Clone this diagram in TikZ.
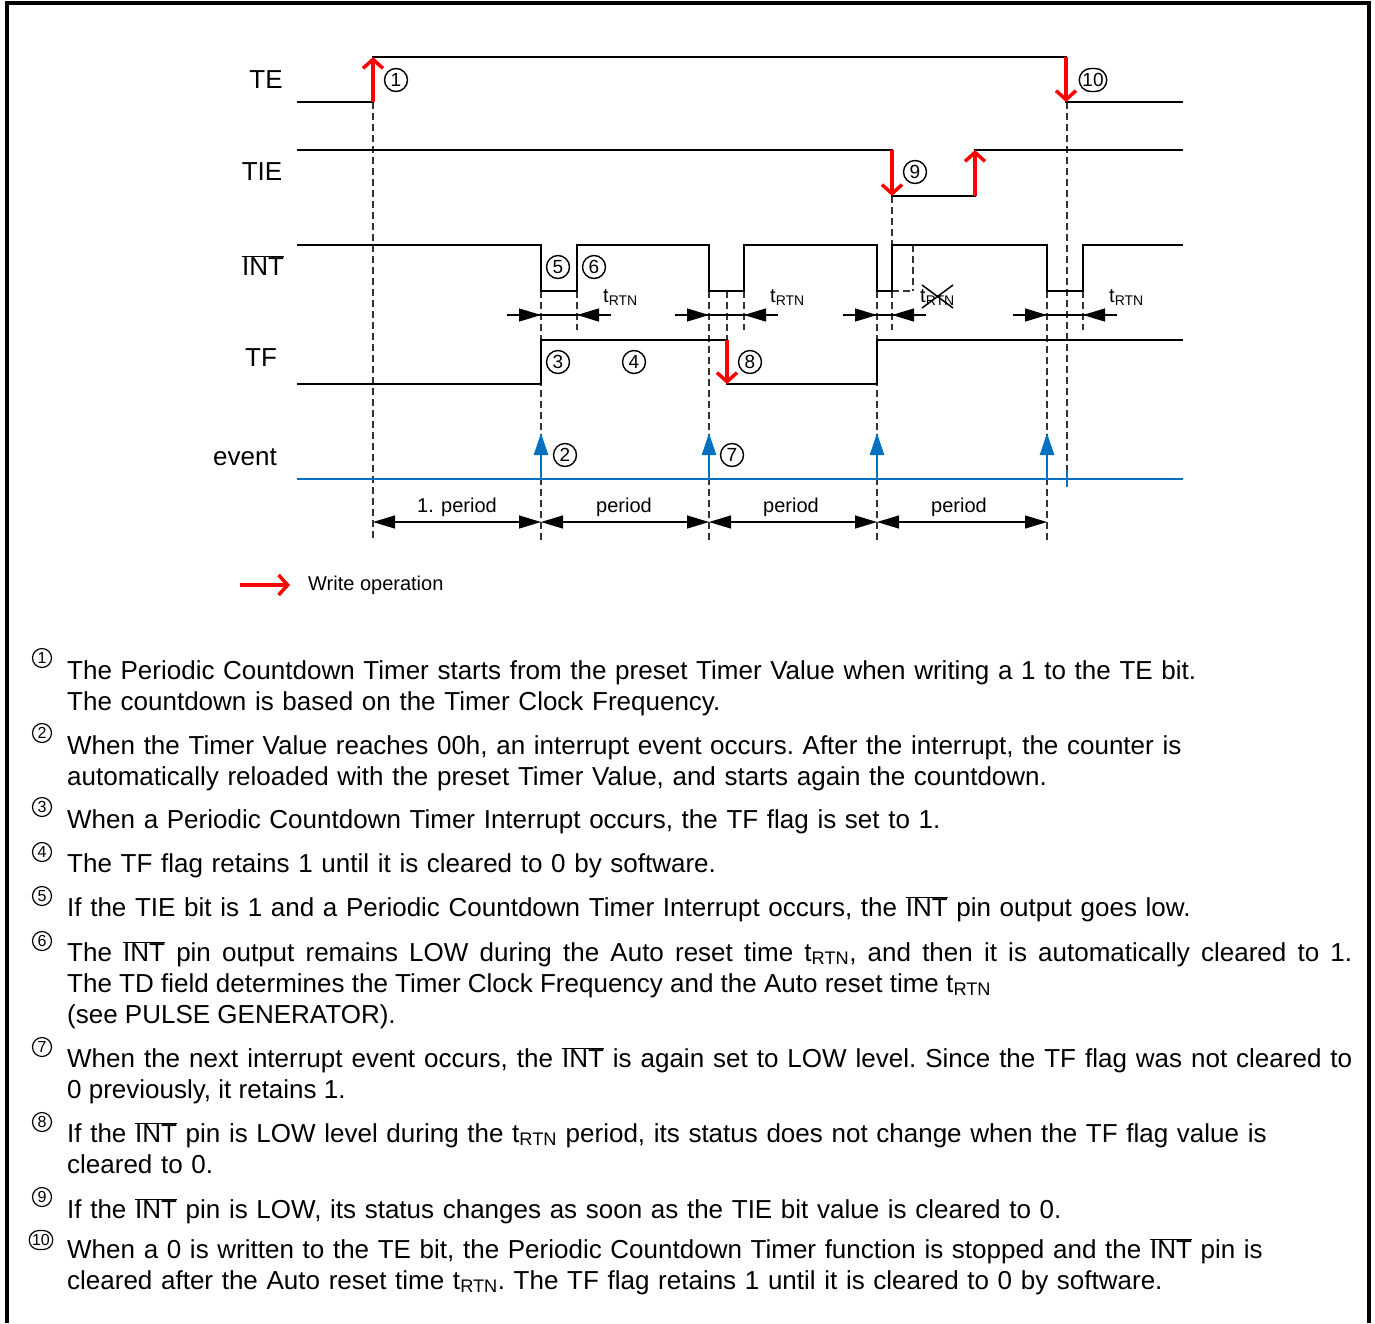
\documentclass[tikz,border=0pt]{standalone}
\usepackage{fontspec}
\setmainfont{Liberation Sans}
\usepackage{xcolor}
\definecolor{wrred}{RGB}{255,0,0}
\definecolor{evblue}{RGB}{0,112,192}
\usepackage{tikz}
\usetikzlibrary{
  arrows.meta,
  shapes.misc
}
\tikzset{
  sigline/.style={line width=2.5pt, line join=miter},
  wrarrow/.style={draw=wrred, line width=3.5pt,
    -{Straight Barb[length=9pt, width=20pt]}},
  evarrow/.style={draw=evblue, line width=2.5pt,
    -{Triangle[length=22pt, width=14pt]}},
  guide/.style={line width=1.2pt, dash pattern=on 7pt off 4pt, black!80},
  dimline/.style={line width=1.2pt},
  dimtip/.style={line width=1.2pt, -{Triangle[length=22pt, width=13pt]}},
  cnum/.style={draw, rounded rectangle, line width=1.4pt, inner sep=1pt,
    minimum height=23pt, minimum width=23pt,
    font=\fontsize{19}{19}\selectfont},
  lcnum/.style={cnum, minimum height=19pt, minimum width=19pt,
    line width=1.2pt, font=\fontsize{16}{16}\selectfont},
  siglbl/.style={font=\fontsize{26}{26}\selectfont},
  smalltxt/.style={font=\fontsize{20}{20}\selectfont, inner sep=0pt},
  note/.style={anchor=base west, inner sep=0pt, text width=1285pt,
    align=left, font=\fontsize{26}{31}\selectfont\frenchspacing},
}
\newcommand{\ovl}[1]{$\overline{\mbox{#1}}$}
\newcommand{\trtn}{t\textsubscript{RTN}}

\begin{document}
\begin{tikzpicture}[x=1pt, y=-1pt]
  \useasboundingbox (0,0) rectangle (1375,1323);

  % Frame
  \draw[line width=4pt] (7,1323) -- (7,3) -- (1369,3) -- (1369,1323);

  % Signal names
  \node[siglbl] (lte)  at (266,80)  {TE};
  \node[siglbl] (ltie) at (262,172) {TIE};
  \node[siglbl] (lint) at (263,266) {\ovl{INT}};
  \node[siglbl] (ltf)  at (261,358) {TF};
  \node[siglbl] (lev)  at (245,457) {event};

  % Dashed guides
  \foreach \x/\ya/\yb in {373/102/541, 541/291/541, 577/291/330,
      709/291/541, 727/291/340, 744/291/330, 877/291/541,
      892/196/245, 892/291/330, 913/245/291, 1047/291/541,
      1067/102/470, 1083/291/330} {
    \draw[guide] (\x,\ya) -- (\x,\yb);
  }
  \draw[guide] (892,291) -- (913,291);

  % Waveforms
  \draw[sigline] (297,102) -- (373,102) -- (373,57) -- (1066,57)
    -- (1066,102) -- (1183,102);
  \draw[sigline] (297,150) -- (892,150) -- (892,196) -- (975,196)
    -- (975,150) -- (1183,150);
  \draw[sigline] (297,245) -- (541,245) -- (541,291) -- (577,291)
    -- (577,245) -- (709,245) -- (709,291) -- (744,291) -- (744,245)
    -- (877,245) -- (877,291) -- (892,291) -- (892,245) -- (1047,245)
    -- (1047,291) -- (1083,291) -- (1083,245) -- (1183,245);
  \draw[sigline] (297,384) -- (541,384) -- (541,340) -- (727,340)
    -- (727,384) -- (877,384) -- (877,340) -- (1183,340);
  \draw[evblue, line width=2.5pt] (297,479) -- (1183,479);
  \draw[evblue, line width=2.5pt] (1067,470) -- (1067,487);

  % Write operations
  \draw[wrarrow] (373,102) -- (373,57);
  \draw[wrarrow] (1066,57) -- (1066,102);
  \draw[wrarrow] (892,150) -- (892,196);
  \draw[wrarrow] (975,196) -- (975,150);
  \draw[wrarrow] (727,340) -- (727,384);

  % Interrupt events
  \foreach \x in {541, 709, 877, 1047} {
    \draw[evarrow] (\x,479) -- (\x,433);
  }

  % Auto reset times
  \foreach \a/\b in {541/577, 709/744, 877/892, 1047/1083} {
    \draw[dimline] (\a-34,315) -- (\b+34,315);
    \draw[dimtip] (\a-34,315) -- (\a,315);
    \draw[dimtip] (\b+34,315) -- (\b,315);
  }
  \node[smalltxt, anchor=base west] (r1) at (603,302) {\trtn};
  \node[smalltxt, anchor=base west] (r2) at (770,302) {\trtn};
  \node[smalltxt, anchor=base west] (r3) at (920,302) {\trtn};
  \node[smalltxt, anchor=base west] (r4) at (1109,302) {\trtn};
  \draw[line width=1.5pt] (922,285) -- (953,308);
  \draw[line width=1.5pt] (922,308) -- (953,285);

  % Periods
  \foreach \a/\b in {373/541, 541/709, 709/877, 877/1047} {
    \draw[dimtip] ({(\a+\b)/2},522) -- (\a,522);
    \draw[dimtip] ({(\a+\b)/2},522) -- (\b,522);
  }
  \node[smalltxt] (p1) at (457,507) {1. period};
  \node[smalltxt] (p2) at (624,507) {period};
  \node[smalltxt] (p3) at (791,507) {period};
  \node[smalltxt] (p4) at (959,507) {period};

  % Step markers
  \node[cnum] (c1)  at (396,80)  {1};
  \node[cnum] (c2)  at (565,455) {2};
  \node[cnum] (c3)  at (558,362) {3};
  \node[cnum] (c4)  at (634,362) {4};
  \node[cnum] (c5)  at (558,267) {5};
  \node[cnum] (c6)  at (594,267) {6};
  \node[cnum] (c7)  at (732,455) {7};
  \node[cnum] (c8)  at (750,362) {8};
  \node[cnum] (c9)  at (915,172) {9};
  \node[cnum] (c10) at (1093,80) {10};

  % Legend
  \coordinate (lga) at (240,585);
  \coordinate (lgb) at (290,585);
  \draw[wrarrow] (lga) -- (lgb);
  \node[smalltxt, anchor=west] (lgt) at (308,585) {Write operation};

  % Notes
  \node[lcnum] (n1)  at (42,658)  {1};
  \node[note] (t1) at (67,679)
    {The Periodic Countdown Timer starts from the preset Timer Value when writing a 1 to the TE bit.\\
     The countdown is based on the Timer Clock Frequency.};
  \node[lcnum] (n2)  at (42,733)  {2};
  \node[note] (t2) at (67,754)
    {When the Timer Value reaches 00h, an interrupt event occurs. After the interrupt, the counter is\\
     automatically reloaded with the preset Timer Value, and starts again the countdown.};
  \node[lcnum] (n3)  at (42,807)  {3};
  \node[note] (t3) at (67,828)
    {When a Periodic Countdown Timer Interrupt occurs, the TF flag is set to 1.};
  \node[lcnum] (n4)  at (42,852)  {4};
  \node[note] (t4) at (67,872)
    {The TF flag retains 1 until it is cleared to 0 by software.};
  \node[lcnum] (n5)  at (42,896)  {5};
  \node[note] (t5) at (67,916)
    {If the TIE bit is 1 and a Periodic Countdown Timer Interrupt occurs, the \ovl{INT} pin output goes low.};
  \node[lcnum] (n6)  at (42,941)  {6};
  \node[note, align=justify] (t6) at (67,961)
    {The \ovl{INT} pin output remains LOW during the Auto reset time \trtn, and then it is automatically cleared to 1.\linebreak
     The TD field determines the Timer Clock Frequency and the Auto reset time \trtn\\
     (see PULSE GENERATOR).};
  \node[lcnum] (n7)  at (42,1047) {7};
  \node[note, align=justify] (t7) at (67,1067)
    {When the next interrupt event occurs, the \ovl{INT} is again set to LOW level. Since the TF flag was not cleared to\linebreak
     0 previously, it retains 1.};
  \node[lcnum] (n8)  at (42,1122) {8};
  \node[note] (t8) at (67,1142)
    {If the \ovl{INT} pin is LOW level during the \trtn{} period, its status does not change when the TF flag value is\\
     cleared to 0.};
  \node[lcnum] (n9)  at (42,1197) {9};
  \node[note] (t9) at (67,1218)
    {If the \ovl{INT} pin is LOW, its status changes as soon as the TIE bit value is cleared to 0.};
  \node[lcnum] (n10) at (41,1240) {10};
  \node[note] (t10) at (67,1258)
    {When a 0 is written to the TE bit, the Periodic Countdown Timer function is stopped and the \ovl{INT} pin is\\
     cleared after the Auto reset time \trtn. The TF flag retains 1 until it is cleared to 0 by software.};
\end{tikzpicture}
\end{document}
